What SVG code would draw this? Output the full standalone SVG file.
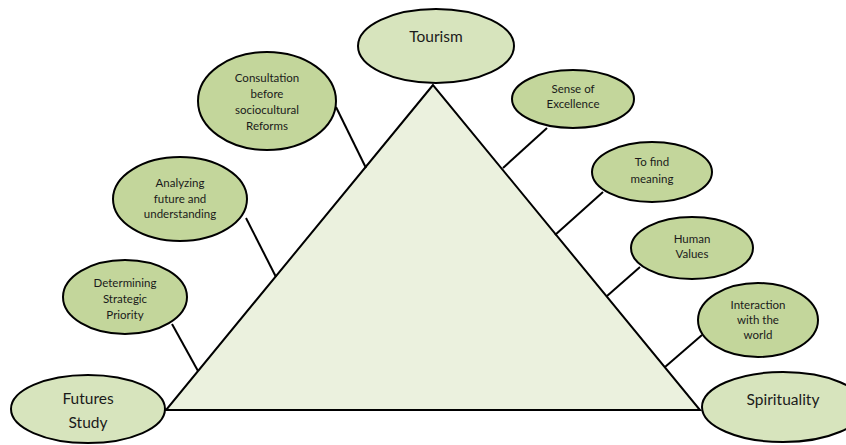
<svg xmlns="http://www.w3.org/2000/svg" width="846" height="445" viewBox="0 0 846 445">
<style>
.big{fill:#d7e4bd;stroke:#000;stroke-width:2}
.small{fill:#c3d69b;stroke:#000;stroke-width:2}
.tri{fill:#ebf1de;stroke:#000;stroke-width:2}
.ln{stroke:#000;stroke-width:2;fill:none}
text{font-family:Lato,"Open Sans","Liberation Sans",sans-serif;fill:#1a1a1a;text-anchor:middle}
.t1{font-size:15.5px}
.t2{font-size:11.5px}
</style>
<rect width="846" height="445" fill="#fff"/>
<g id="triangle"><polygon class="tri" points="433,85 166,410 700,410"/></g>
<g id="connectors">
<line class="ln" x1="336" y1="107" x2="366" y2="168"/>
<line class="ln" x1="246" y1="218" x2="276" y2="277"/>
<line class="ln" x1="172" y1="324" x2="198" y2="371"/>
<line class="ln" x1="547" y1="128" x2="503" y2="168"/>
<line class="ln" x1="603" y1="192" x2="555" y2="235"/>
<line class="ln" x1="640" y1="267" x2="607" y2="296"/>
<line class="ln" x1="702" y1="335" x2="665" y2="367"/>
</g>
<g id="tourism"><ellipse class="big" cx="436" cy="46" rx="78" ry="37"/><text class="t1" x="436" y="42">Tourism</text></g>
<g id="futures"><ellipse class="big" cx="88" cy="409" rx="77" ry="34"/><text class="t1" x="88" y="404">Futures</text><text class="t1" x="88" y="428">Study</text></g>
<g id="spirituality"><ellipse class="big" cx="783" cy="407" rx="81" ry="35"/><text class="t1" x="783" y="405">Spirituality</text></g>
<g id="consultation"><ellipse class="small" cx="267" cy="101" rx="69" ry="49"/><text class="t2" x="267" y="82">Consultation</text><text class="t2" x="267" y="98">before</text><text class="t2" x="267" y="114">sociocultural</text><text class="t2" x="267" y="130">Reforms</text></g>
<g id="analyzing"><ellipse class="small" cx="180" cy="199" rx="67" ry="42"/><text class="t2" x="180" y="187">Analyzing</text><text class="t2" x="180" y="203">future and</text><text class="t2" x="180" y="218">understanding</text></g>
<g id="determining"><ellipse class="small" cx="125" cy="297" rx="62" ry="37"/><text class="t2" x="125" y="287">Determining</text><text class="t2" x="125" y="303">Strategic</text><text class="t2" x="125" y="319">Priority</text></g>
<g id="excellence"><ellipse class="small" cx="573" cy="99" rx="61" ry="29"/><text class="t2" x="573" y="93">Sense of</text><text class="t2" x="573" y="108">Excellence</text></g>
<g id="meaning"><ellipse class="small" cx="652" cy="172" rx="60" ry="30"/><text class="t2" x="652" y="166">To find</text><text class="t2" x="652" y="183">meaning</text></g>
<g id="values"><ellipse class="small" cx="692" cy="248" rx="61" ry="31"/><text class="t2" x="692" y="243">Human</text><text class="t2" x="692" y="258">Values</text></g>
<g id="interaction"><ellipse class="small" cx="758" cy="320" rx="60" ry="37"/><text class="t2" x="758" y="309">Interaction</text><text class="t2" x="758" y="324">with the</text><text class="t2" x="758" y="339">world</text></g>
</svg>
